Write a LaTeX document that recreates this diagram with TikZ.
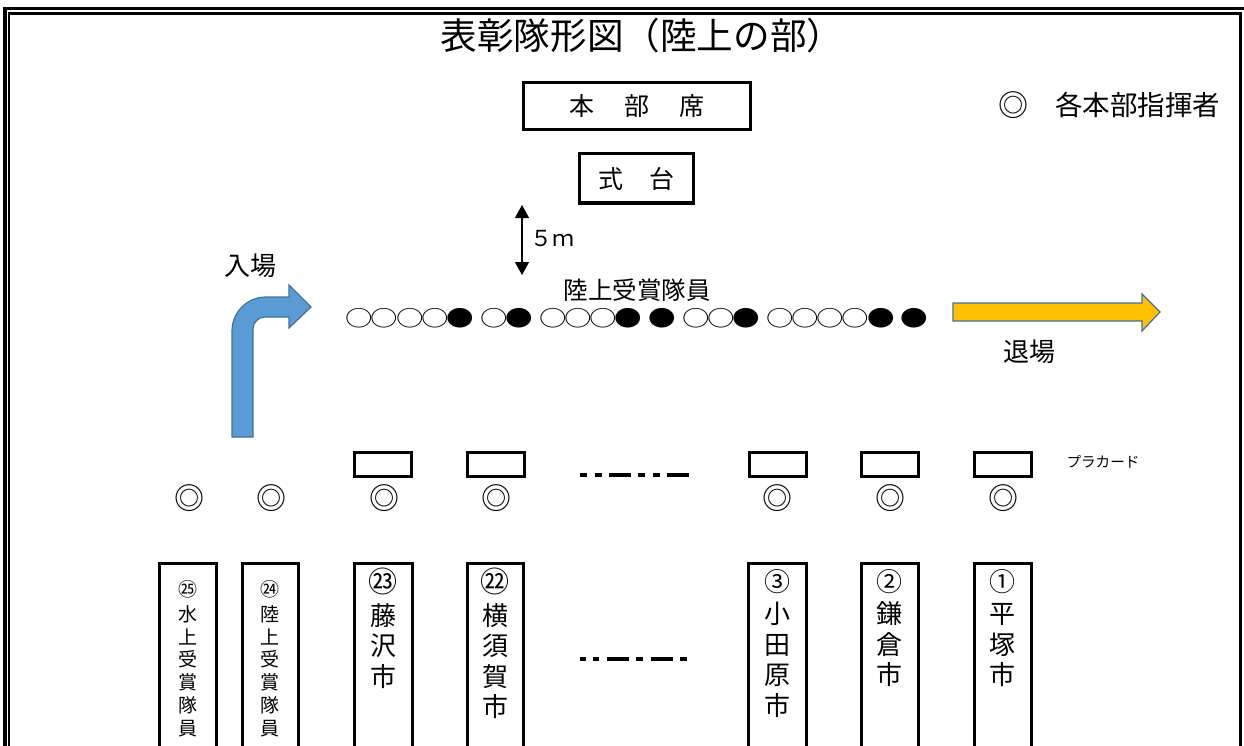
\documentclass[tikz,border=0pt]{standalone}
\usepackage{fontspec}
\usepackage{graphicx}
\setmainfont{Noto Sans CJK JP}
\usetikzlibrary{arrows.meta}
\definecolor{arrblue}{HTML}{5B9BD5}
\definecolor{arrline}{HTML}{41719C}
\definecolor{arrorange}{HTML}{FFC000}
\newcommand{\fs}[1]{\fontsize{#1}{#1}\selectfont}
\newcommand{\gapc}{\hspace{8.5pt}}
\newcommand{\wc}{\makebox[25.2pt]{\scalebox{1.26}[1]{\fs{21.8}○}}}
\newcommand{\bc}{\makebox[25.2pt]{\scalebox{1.26}[1]{\fs{21.8}●}}}
\begin{document}
\begin{tikzpicture}[x=1pt,y=-1pt,
  box/.style={draw,line width=3pt,inner sep=0pt,outer sep=0pt},
  lbl/.style={inner sep=0pt,outer sep=0pt},
  bigcol/.style={lbl,anchor=north,align=center,font=\fontsize{26}{30.5}\selectfont},
  smallcol/.style={lbl,anchor=north,align=center,font=\fontsize{19}{22.7}\selectfont},
  placard/.style={box,minimum width=57pt,minimum height=24pt},
  tallbox/.style={box,minimum width=57pt,minimum height=220pt},
  leader/.style={lbl,font=\fs{30}},
  bigarrow/.style={draw=arrline,line width=1.2pt,line join=miter}]
\useasboundingbox (0,0) rectangle (1244,746);
% double frame
\draw[line width=3.5pt] (5,770) -- (5,8.5) -- (1245.5,8.5) -- (1245.5,770);
\draw[line width=2.2pt] (9.2,770) -- (9.2,13.5) -- (1240.5,13.5) -- (1240.5,770);
% title
\node[lbl,font=\fs{36.6}] (title) at (642,36) {表彰隊形図（陸上の部）};
% head seats
\node[box,minimum width=227pt,minimum height=47pt,font=\fs{25}] (honbu) at (636.5,106.5) {本\hspace{30pt}部\hspace{30pt}席};
\node[box,minimum width=114pt,minimum height=49pt,font=\fs{25}] (shikidai) at (636,178.5) {式\hspace{26pt}台};
% legend
\node[lbl,font=\fs{30}] (mark) at (1013.5,105) {◎};
\node[lbl,font=\fs{27.5}] (legend) at (1137.5,105) {各本部指揮者};
% 5m arrow
\coordinate (a5top) at (522,205);
\coordinate (a5bot) at (522,275);
\draw[line width=1.2pt,{Triangle[width=14pt,length=13pt]}-{Triangle[width=14pt,length=13pt]}] (a5top) -- (a5bot);
\node[lbl,anchor=west,font=\fs{22}] (fivem) at (530,239) {５ｍ};
% labels
\node[lbl,font=\fs{26}] (nyujo) at (250,266) {入場};
\node[lbl,font=\fs{26}] (taijo) at (1029,352) {退場};
\node[lbl,font=\fs{24.5}] (rikujo) at (637,290) {陸上受賞隊員};
\node[lbl] (row) at (637,318) {\wc\wc\wc\wc\bc\gapc\wc\bc\gapc\wc\wc\wc\bc\gapc\bc\gapc\wc\wc\bc\gapc\wc\wc\wc\wc\bc\gapc\bc};
% entry arrow (blue)
\path[bigarrow,fill=arrblue] (232,437) -- (232,331)
  .. controls (232,312.2) and (247.2,297) .. (266,297)
  -- (289,297) -- (289,285) -- (311,307) -- (289,328) -- (289,317)
  -- (265,317) .. controls (258.4,317) and (253,322.4) .. (253,329)
  -- (253,437) -- cycle;
% exit arrow (orange)
\path[bigarrow,fill=arrorange] (953,303) -- (1142,303) -- (1142,294) -- (1160,312)
  -- (1142,331) -- (1142,321) -- (953,321) -- cycle;
% placards
\node[placard] (p23) at (382.5,464) {};
\node[placard] (p22) at (495.5,464) {};
\node[placard] (p3) at (777.5,464) {};
\node[placard] (p2) at (889.5,464) {};
\node[placard] (p1) at (1002.5,464) {};
\node[lbl,font=\fs{14.6}] (placardlbl) at (1103,462) {プラカード};
\draw[line width=4pt,dash pattern=on 7pt off 8pt on 7pt off 7pt on 22pt off 7pt] (580,475) -- (689,475);
% leaders
\node[leader] (l25) at (189,498) {◎};
\node[leader] (l24) at (271,498) {◎};
\node[leader] (l23) at (384,498) {◎};
\node[leader] (l22) at (496,498) {◎};
\node[leader] (l3) at (777,498) {◎};
\node[leader] (l2) at (890,498) {◎};
\node[leader] (l1) at (1003,498) {◎};
% team columns
\node[tallbox] (b25) at (188,673) {};
\node[tallbox,minimum width=56pt] (b24) at (270,673) {};
\node[tallbox,minimum width=58pt] (b23) at (383,673) {};
\node[tallbox,minimum width=56pt] (b22) at (495,673) {};
\node[tallbox,minimum width=58pt] (b3) at (777,673) {};
\node[tallbox] (b2) at (889.5,673) {};
\node[tallbox] (b1) at (1002.5,673) {};
\node[smallcol] (t25) at (188,580) {㉕\\[2.8pt]水\\上\\受\\賞\\隊\\員};
\node[smallcol] (t24) at (270,580) {㉔\\[2.8pt]陸\\上\\受\\賞\\隊\\員};
\node[bigcol] (t23) at (383,568) {{\fontsize{29}{30.5}\selectfont ㉓}\\[2pt]藤\\沢\\市};
\node[bigcol] (t22) at (495,568) {{\fontsize{29}{30.5}\selectfont ㉒}\\[2pt]横\\須\\賀\\市};
\node[bigcol] (t3) at (777,569) {③\\[2pt]小\\田\\原\\市};
\node[bigcol] (t2) at (889.5,569) {②\\[2pt]鎌\\倉\\市};
\node[bigcol] (t1) at (1002.5,569) {①\\[2pt]平\\塚\\市};
\draw[line width=4pt,dash pattern=on 6pt off 7pt on 6pt off 8pt on 22pt off 7pt on 7pt off 8pt on 22pt off 7pt on 7pt off 50pt] (580,659) -- (687,659);
\end{tikzpicture}
\end{document}
